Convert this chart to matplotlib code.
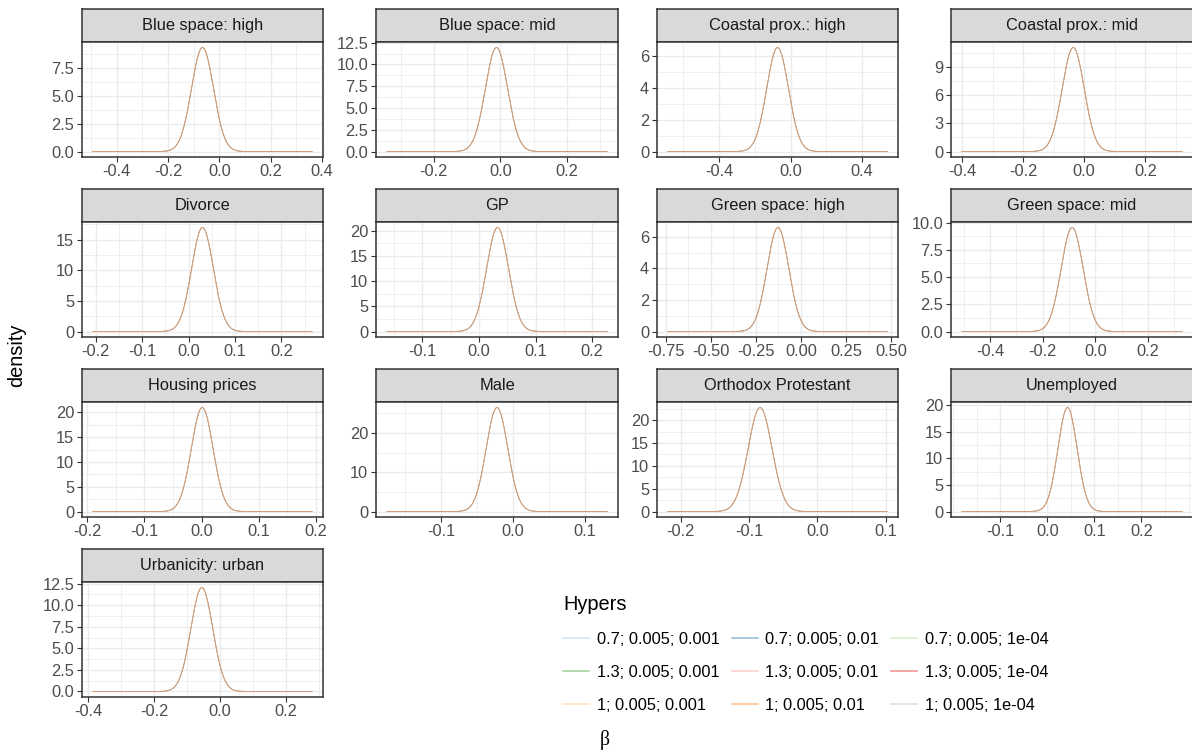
import numpy as np
import matplotlib
matplotlib.use("Agg")
import matplotlib.pyplot as plt
from matplotlib.ticker import FixedLocator, AutoMinorLocator
from matplotlib.lines import Line2D

plt.rcParams["font.family"] = ["Liberation Sans", "DejaVu Sans"]

# facet titles, one per coefficient
panels = ["Blue space: high", "Blue space: mid", "Coastal prox.: high", "Coastal prox.: mid",
          "Divorce", "GP", "Green space: high", "Green space: mid",
          "Housing prices", "Male", "Orthodox Protestant", "Unemployed",
          "Urbanicity: urban"]

# posterior summary: location of the peak, peak height,
# and the range of the posterior draws (where the density line starts / stops)
post_mean = [-0.066, -0.012, -0.073, -0.036,
             0.030, 0.033, -0.128, -0.088,
             0.001, -0.022, -0.084, 0.043,
             -0.055]
post_peak = [9.30, 11.95, 6.56, 11.10,
             17.0, 20.6, 6.60, 9.55,
             21.0, 26.5, 22.8, 19.6,
             12.04]
draw_lo = [-0.493, -0.341, -0.686, -0.400,
           -0.206, -0.162, -0.739, -0.507,
           -0.190, -0.175, -0.219, -0.181,
           -0.385]
draw_hi = [0.361, 0.320, 0.539, 0.320,
           0.266, 0.226, 0.478, 0.330,
           0.193, 0.131, 0.102, 0.286,
           0.279]

x_ticks = [[-0.4, -0.2, 0.0, 0.2, 0.4], [-0.2, 0.0, 0.2], [-0.4, 0.0, 0.4], [-0.4, -0.2, 0.0, 0.2],
           [-0.2, -0.1, 0.0, 0.1, 0.2], [-0.1, 0.0, 0.1, 0.2],
           [-0.75, -0.50, -0.25, 0.0, 0.25, 0.50], [-0.4, -0.2, 0.0, 0.2],
           [-0.2, -0.1, 0.0, 0.1, 0.2], [-0.1, 0.0, 0.1], [-0.2, -0.1, 0.0, 0.1], [-0.1, 0.0, 0.1, 0.2],
           [-0.4, -0.2, 0.0, 0.2]]
x_fmt = ["%.1f"] * 6 + ["%.2f"] + ["%.1f"] * 6

y_ticks = [[0, 2.5, 5, 7.5], [0, 2.5, 5, 7.5, 10, 12.5], [0, 2, 4, 6], [0, 3, 6, 9],
           [0, 5, 10, 15], [0, 5, 10, 15, 20], [0, 2, 4, 6], [0, 2.5, 5, 7.5, 10],
           [0, 5, 10, 15, 20], [0, 10, 20], [0, 5, 10, 15, 20], [0, 5, 10, 15, 20],
           [0, 2.5, 5, 7.5, 10, 12.5]]
y_fmt = ["%.1f", "%.1f", "%.0f", "%.0f",
         "%.0f", "%.0f", "%.0f", "%.1f",
         "%.0f", "%.0f", "%.0f", "%.0f",
         "%.1f"]

hypers = ["0.7; 0.005; 0.001", "0.7; 0.005; 0.01", "0.7; 0.005; 1e-04",
          "1.3; 0.005; 0.001", "1.3; 0.005; 0.01", "1.3; 0.005; 1e-04",
          "1; 0.005; 0.001", "1; 0.005; 0.01", "1; 0.005; 1e-04"]
hyper_colors = ["#A6CEE3", "#1F78B4", "#B2DF8A", "#33A02C", "#FB9A99",
                "#E31A1C", "#FDBF6F", "#FF7F00", "#CAB2D6"]

W, H = 1192, 751
fig = plt.figure(figsize=(W / 100, H / 100), dpi=100)

col_left = [82, 376, 657, 951]
col_right = [323, 618, 898, 1193]
row_top = 9.3
row_step = 180
strip_h = 33
panel_h = 114.4

fs = 11.8
border = "#333333"


def px_axes(x0, y0, x1, y1):
    return fig.add_axes([x0 / W, 1 - y1 / H, (x1 - x0) / W, (y1 - y0) / H])


def fmt(f, v):
    s = f % v
    return s.replace("-0.00", "0.00") if v == 0 else s


for i, name in enumerate(panels):
    r, c = divmod(i, 4)
    top = row_top + r * row_step
    x0, x1 = col_left[c], col_right[c]

    strip = px_axes(x0, top, x1, top + strip_h)
    strip.set_facecolor("#D9D9D9")
    strip.set_xticks([])
    strip.set_yticks([])
    for sp in strip.spines.values():
        sp.set_color(border)
        sp.set_linewidth(1.1)
    strip.text(0.5, 0.5, name, ha="center", va="center", fontsize=fs,
               color="#1A1A1A", transform=strip.transAxes)

    ax = px_axes(x0, top + strip_h, x1, top + strip_h + panel_h)
    sd = 1.0 / (post_peak[i] * np.sqrt(2 * np.pi))
    xs = np.linspace(draw_lo[i], draw_hi[i], 512)
    dens = np.exp(-0.5 * ((xs - post_mean[i]) / sd) ** 2) / (sd * np.sqrt(2 * np.pi))
    for col in hyper_colors:
        ax.plot(xs, dens, color=col, lw=0.55, alpha=0.3)

    ax.margins(x=0.05, y=0.05)
    ax.xaxis.set_major_locator(FixedLocator(x_ticks[i]))
    ax.yaxis.set_major_locator(FixedLocator(y_ticks[i]))
    ax.set_xticklabels([fmt(x_fmt[i], v) for v in x_ticks[i]])
    ax.set_yticklabels([fmt(y_fmt[i], v) for v in y_ticks[i]])
    ax.xaxis.set_minor_locator(AutoMinorLocator(2))
    ax.yaxis.set_minor_locator(AutoMinorLocator(2))
    ax.set_axisbelow(True)
    ax.grid(which="major", color="#EBEBEB", lw=1.0)
    ax.grid(which="minor", color="#EBEBEB", lw=0.55)
    ax.tick_params(which="major", direction="out", length=3.6, width=0.8, color=border,
                   labelcolor="#4D4D4D", labelsize=fs, pad=2)
    ax.tick_params(which="minor", length=0)
    for sp in ax.spines.values():
        sp.set_color(border)
        sp.set_linewidth(1.1)

# legend, filled row by row like ggplot's byrow guide
order = [0, 3, 6, 1, 4, 7, 2, 5, 8]
handles = [Line2D([], [], color=hyper_colors[k], lw=1.1, alpha=0.5) for k in order]
labels = [hypers[k] for k in order]
fig.legend(handles, labels, loc="upper left", bbox_to_anchor=(563 / W, 1 - 595 / H),
           ncol=3, frameon=False, title="Hypers", alignment="left",
           fontsize=fs, title_fontsize=14.4, handlelength=1.6, handletextpad=0.45,
           columnspacing=0.75, labelspacing=1.1, borderpad=0, borderaxespad=0)

fig.text(17 / W, 1 - 355 / H, "density", rotation=90, ha="center", va="center", fontsize=14.4)
fig.text(605 / W, 1 - 740 / H, "β", ha="center", va="center", fontsize=14.4,
         family=["Liberation Serif", "DejaVu Serif"])

fig.savefig("out.png", dpi=100)
